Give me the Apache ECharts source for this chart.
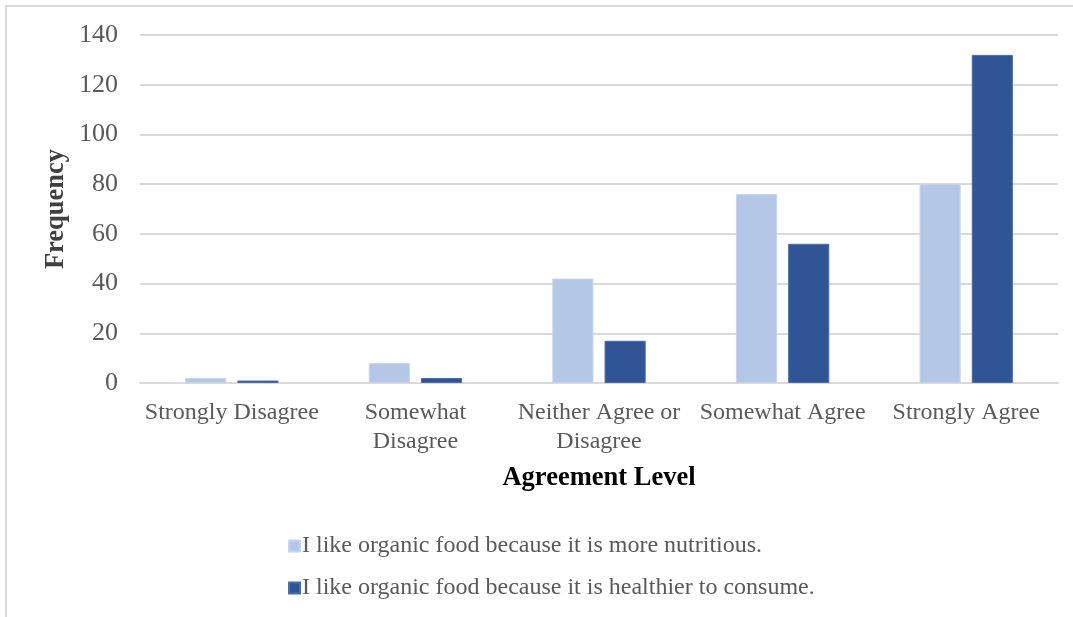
<!DOCTYPE html>
<html>
<head>
<meta charset="utf-8">
<script src="https://cdn.jsdelivr.net/npm/echarts@6/dist/echarts.min.js"></script>
<style>
  html, body { margin: 0; padding: 0; background: #fff; }
  #frame { position: absolute; left: 5px; top: 5px; width: 1068px; height: 612px;
           border-top: 2px solid #d9d9d9; border-left: 2px solid #d9d9d9; box-sizing: border-box; }
  #chart { position: absolute; left: 0; top: 0; width: 1073px; height: 617px; }
</style>
</head>
<body>
<div id="frame"></div>
<div id="chart"></div>
<script>
// Survey responses by agreement level
const categories = ['Strongly Disagree', 'Somewhat\nDisagree', 'Neither Agree or\nDisagree', 'Somewhat Agree', 'Strongly Agree'];
const nutritious = [2, 8, 42, 76, 80];
const healthier = [1, 2, 17, 56, 132];
const seriesNames = [
  'I like organic food because it is more nutritious.',
  'I like organic food because it is healthier to consume.'
];

const serif = '"Liberation Serif", "Times New Roman", serif';
const chart = echarts.init(document.getElementById('chart'));
chart.setOption({
  animation: false,
  grid: { left: 140, right: 15, top: 35, bottom: 234, containLabel: false },
  legend: {
    orient: 'vertical',
    left: 283,
    top: 529,
    itemWidth: 11,
    itemHeight: 11,
    itemGap: 18,
    icon: 'rect',
    textStyle: { fontFamily: serif, fontSize: 24, color: '#595959', padding: [0, 0, 0, -3] },
    data: seriesNames
  },
  xAxis: {
    type: 'category',
    data: categories,
    name: 'Agreement Level',
    nameLocation: 'middle',
    nameGap: 82,
    nameTextStyle: { fontFamily: serif, fontSize: 26.5, fontWeight: 'bold', color: '#000' },
    axisLine: { lineStyle: { color: '#d9d9d9', width: 2 } },
    axisTick: { show: false },
    axisLabel: { fontFamily: serif, fontSize: 24, color: '#595959', margin: 15, lineHeight: 29, interval: 0 }
  },
  yAxis: {
    type: 'value',
    min: 0,
    max: 140,
    interval: 20,
    name: 'Frequency',
    nameLocation: 'middle',
    nameGap: 70,
    nameMoveOverlap: false,
    nameRotate: 90,
    nameTextStyle: { fontFamily: serif, fontSize: 26.5, fontWeight: 'bold', color: '#404040' },
    axisLine: { show: false },
    axisTick: { show: false },
    axisLabel: { fontFamily: serif, fontSize: 26, color: '#595959', margin: 22 },
    splitLine: { lineStyle: { color: '#d9d9d9', width: 2 } }
  },
  series: [
    {
      name: seriesNames[0],
      type: 'bar',
      data: nutritious,
      barWidth: '22.4%',
      barGap: '27%',
      itemStyle: { color: '#b4c7e7', borderColor: '#c5d4ee', borderWidth: 1 }
    },
    {
      name: seriesNames[1],
      type: 'bar',
      data: healthier,
      barWidth: '22.4%',
      itemStyle: { color: '#2f5597', borderColor: '#4a6ca8', borderWidth: 1 }
    }
  ]
});
</script>
</body>
</html>
